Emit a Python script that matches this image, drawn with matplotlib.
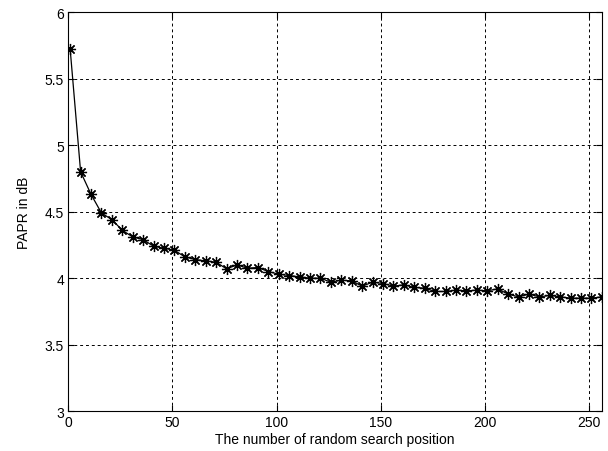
import matplotlib
matplotlib.use('Agg')
import matplotlib.pyplot as plt

# number of random search positions (1:5:256)
positions = list(range(1, 257, 5))
papr_db = [5.72, 4.80, 4.63, 4.49, 4.44, 4.36, 4.31, 4.29, 4.24, 4.225,
           4.21, 4.16, 4.14, 4.13, 4.12, 4.07, 4.10, 4.075, 4.08, 4.05,
           4.03, 4.02, 4.01, 4.00, 4.00, 3.97, 3.985, 3.98, 3.94, 3.97,
           3.96, 3.94, 3.95, 3.93, 3.925, 3.90, 3.90, 3.91, 3.905, 3.91,
           3.905, 3.92, 3.88, 3.86, 3.88, 3.86, 3.87, 3.86, 3.85, 3.85,
           3.85, 3.86]
x_ticks = [0, 50, 100, 150, 200, 250]
y_ticks = [3, 3.5, 4, 4.5, 5, 5.5, 6]

plt.rcParams['font.family'] = ['Liberation Sans', 'DejaVu Sans']

fig = plt.figure(figsize=(6.08, 4.52), dpi=100)
ax = fig.add_axes([0.112, 0.088, 0.878, 0.883])

# matlab style '*' marker: 8 spokes
ax.plot(positions, papr_db, color='black', linewidth=0.9, marker=(8, 2, 0),
        markersize=8, markeredgewidth=0.9)

ax.set_xlim(0, 256)
ax.set_ylim(3, 6)
ax.set_xticks(x_ticks)
ax.set_yticks(y_ticks)
ax.set_yticklabels(['3', '3.5', '4', '4.5', '5', '5.5', '6'])
ax.tick_params(direction='in', top=True, right=True, labelsize=10,
               length=4, width=0.8, pad=3)
ax.grid(True, color='black', linestyle=(0, (3, 3)), linewidth=0.7)
for s in ax.spines.values():
    s.set_linewidth(0.8)

ax.set_xlabel('The number of random search position', fontsize=10, labelpad=2)
ax.set_ylabel('PAPR in dB', fontsize=10, labelpad=10)

fig.savefig('out.png', dpi=100)
